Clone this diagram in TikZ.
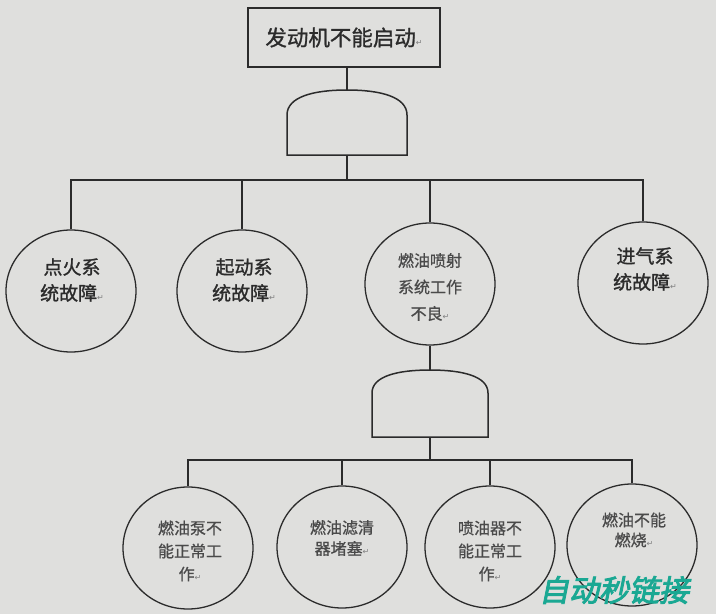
\documentclass[tikz,border=0pt]{standalone}
\usepackage{fontspec}
\usetikzlibrary{shapes.geometric}
\newfontfamily\cjk[FakeBold=0.8]{Noto Sans CJK SC}
\newfontfamily\cjkb[FakeBold=1.2]{Noto Sans CJK SC}
\newfontfamily\wmfont[FakeSlant=0.2,FakeBold=3]{Noto Sans CJK SC}
\newfontfamily\symfont{DejaVu Sans}
\definecolor{bg}{HTML}{DFDFDD}
\definecolor{ink}{HTML}{2B2B2B}
\definecolor{soft}{HTML}{4A4A4A}
\definecolor{wmc}{HTML}{1AA893}
\newcommand{\retmark}{{\symfont\fontsize{8}{8}\selectfont\textcolor{gray}{↵}}}
\begin{document}
\begin{tikzpicture}[x=1pt,y=-1pt,
  wire/.style={draw=ink, line width=1.5pt},
  topbox/.style={draw=ink, line width=1.6pt, rectangle, minimum width=192pt, minimum height=59pt, inner sep=0pt,
    font=\cjkb\fontsize{21.5}{26}\selectfont, text=ink},
  event/.style={ellipse, draw=ink, line width=1.3pt, minimum width=130pt, minimum height=122pt, inner sep=0pt},
  bigtxt/.style={align=center, inner sep=0pt, font=\cjkb\fontsize{19}{26}\selectfont, text=ink},
  smalltxt/.style={align=center, inner sep=0pt, font=\cjk\fontsize{16}{23}\selectfont, text=soft},
  gate/.style={draw=ink, line width=1.5pt}]
\fill[bg] (0,0) rectangle (716,614);
\useasboundingbox (0,0) rectangle (716,614);

% top event
\node[topbox] (top) at (344,37.5) {发动机不能启动\retmark};

% gate 1
\path[gate] (287,155) -- (287,115) .. controls (287,97) and (313,90) .. (347,90)
  .. controls (381,90) and (407,97) .. (407,115) -- (407,155) -- cycle;
\coordinate (g1t) at (347,90);
\coordinate (g1b) at (347,155);
\coordinate (bar1) at (347,180);

% level 2 events
\node[event] (e1) at (71,291) {};
\node[event] (e2) at (242,291) {};
\node[event] (e3) at (430,284) {};
\node[event] (e4) at (643,283) {};
\node[bigtxt] (t1) at (72,280) {点火系\\统故障\retmark};
\node[bigtxt] (t2) at (244,280) {起动系\\统故障\retmark};
\node[smalltxt, font=\cjk\fontsize{16}{26.5}\selectfont] (t3) at (430,287) {燃油喷射\\系统工作\\不良\retmark};
\node[bigtxt] (t4) at (645,269) {进气系\\统故障\retmark};

% gate 2
\path[gate] (372,437) -- (372,393) .. controls (372,376) and (398,370) .. (430,370)
  .. controls (462,370) and (488,376) .. (488,393) -- (488,437) -- cycle;
\coordinate (g2t) at (430,370);
\coordinate (g2b) at (430,437);
\coordinate (bar2) at (430,460);

% level 3 events
\node[event] (f1) at (188,548) {};
\node[event] (f2) at (342,547) {};
\node[event] (f3) at (490,547) {};
\node[event] (f4) at (632,545) {};
\node[smalltxt] (u1) at (190,551) {燃油泵不\\能正常工\\作\retmark};
\node[smalltxt, font=\cjk\fontsize{16}{21}\selectfont] (u2) at (342,538) {燃油滤清\\器堵塞\retmark};
\node[smalltxt] (u3) at (490,551) {喷油器不\\能正常工\\作\retmark};
\node[smalltxt, font=\cjk\fontsize{16}{20}\selectfont] (u4) at (634,530) {燃油不能\\燃烧\retmark};

% connectors
\draw[wire] (top.south -| g1t) -- (g1t);
\draw[wire] (g1b) -- (bar1);
\draw[wire] (e1.north) |- (bar1);
\draw[wire] (e4.north) |- (bar1);
\draw[wire] (e2.north) -- (e2.north |- bar1);
\draw[wire] (e3.north) -- (e3.north |- bar1);
\draw[wire] (e3.south) -- (g2t);
\draw[wire] (g2b) -- (bar2);
\draw[wire] (f1.north) |- (bar2);
\draw[wire] (f4.north) |- (bar2);
\draw[wire] (f2.north) -- (f2.north |- bar2);
\draw[wire] (f3.north) -- (f3.north |- bar2);

% watermark
\node[inner sep=0pt, text=wmc, font=\wmfont\fontsize{30}{30}\selectfont] (wm) at (614,590) {自动秒链接};
\end{tikzpicture}
\end{document}
